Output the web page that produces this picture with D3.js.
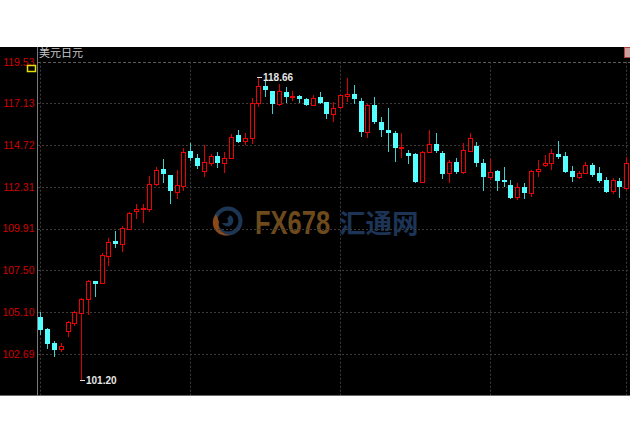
<!DOCTYPE html>
<html><head><meta charset="utf-8">
<script src="https://cdn.jsdelivr.net/npm/d3@7"></script>
<style>html,body{margin:0;padding:0;background:#fff;}svg{display:block;}</style>
</head><body>
<svg id="c" width="630" height="445"></svg>
<script>
const title = "美元日元";
const tickLabels = ["119.53","117.13","114.72","112.31","109.91","107.50","105.10","102.69"];
const openV  = [104.79,104.10,103.29,102.94,104.02,104.44,105.02,105.83,106.88,106.79,108.34,109.19,109.02,109.88,110.92,111.02,111.05,112.46,113.32,113.00,112.03,112.36,114.40,113.99,113.24,113.71,114.09,113.67,113.96,115.30,114.97,115.15,117.15,118.13,117.82,117.07,117.78,117.49,117.57,117.38,117.05,117.48,117.19,116.53,116.92,117.57,117.65,117.28,115.49,117.03,116.07,115.61,115.44,114.54,114.28,114.21,112.59,114.31,114.78,114.25,113.09,113.76,113.19,114.40,114.69,113.71,112.86,113.23,112.71,112.42,111.70,112.32,111.98,113.23,113.57,113.67,114.21,114.09,113.24,112.86,113.09,113.57,113.09,112.71,112.09,112.67,112.23];
const highV  = [105.08,104.16,103.41,103.32,104.59,105.15,105.89,106.94,106.90,108.48,109.35,109.77,110.06,110.88,111.32,111.32,112.94,113.48,113.90,113.02,113.28,114.54,114.82,114.21,114.73,114.21,114.34,114.34,115.36,115.59,115.40,117.42,118.66,118.45,117.84,118.23,118.05,117.84,117.61,117.42,117.61,117.77,117.22,117.19,117.61,118.61,118.19,117.42,117.07,117.51,116.36,116.84,115.55,115.44,114.44,114.28,114.38,115.59,115.40,114.38,113.86,113.96,114.82,115.40,114.92,113.90,113.90,113.28,113.44,112.71,112.52,112.52,113.28,113.86,114.15,114.48,114.96,114.31,113.52,113.24,113.76,113.71,113.48,112.90,112.81,112.81,114.05];
const lowV   = [103.77,102.96,102.52,102.79,103.67,104.29,101.20,104.92,105.98,106.75,107.77,108.77,108.57,109.86,110.44,110.25,110.88,112.36,112.55,111.32,111.61,112.09,113.82,113.32,112.86,113.52,113.42,113.13,113.93,114.86,114.73,114.77,116.93,117.48,116.53,116.99,117.13,117.28,117.17,116.99,117.03,117.09,116.23,116.04,116.79,117.22,117.07,115.20,115.11,115.92,115.20,114.31,113.76,113.96,113.63,112.52,112.52,114.28,114.25,112.78,112.52,113.05,113.05,114.38,113.48,112.09,112.71,112.09,112.32,111.63,111.55,111.63,111.74,112.86,113.44,113.28,113.90,113.09,112.61,112.75,113.05,112.90,112.55,111.94,111.90,111.69,112.13];
const closeV = [104.06,103.25,102.90,103.13,104.50,105.08,105.83,106.88,106.71,108.38,109.12,109.02,109.92,110.82,111.04,111.11,112.48,113.28,113.04,112.07,112.42,114.34,113.99,113.52,113.73,114.11,113.71,113.96,115.20,114.92,115.11,117.13,118.11,117.90,117.11,117.84,117.49,117.55,117.36,117.05,117.42,117.13,116.53,116.88,117.59,117.65,117.36,115.49,117.02,116.04,115.59,115.42,114.57,114.59,114.09,112.59,114.34,114.78,114.40,113.05,113.73,113.15,114.44,115.11,113.67,112.86,113.15,112.65,112.65,111.69,112.32,111.98,113.24,113.34,113.71,114.25,114.05,113.19,112.90,113.13,113.57,113.00,112.67,112.03,112.71,112.29,113.67];
const days = openV.map((d,i)=>i);
const gridEvery = 22;

const svg = d3.select("#c");
const W = 630;
const plotTop = 47, plotBottom = 396;
const x = d3.scaleBand().domain(days).range([36.9, 629.7]);
const cx = i => Math.round(x(i) + x.bandwidth()/2);
const y = d3.scaleLinear().domain([+tickLabels[tickLabels.length-1], +tickLabels[0]]).range([353.7, 61.7]);

svg.append("rect").attr("x",0).attr("y",0).attr("width",W).attr("height",445).attr("fill","#fff");
svg.append("rect").attr("x",0).attr("y",plotTop).attr("width",W).attr("height",plotBottom-plotTop).attr("fill","#000");
svg.append("line").attr("x1",0).attr("x2",W).attr("y1",plotBottom-0.5).attr("y2",plotBottom-0.5).attr("stroke","#6a6a6a");

// watermark
const wm = svg.append("g");
wm.append("circle").attr("cx",228).attr("cy",221).attr("r",12.5).attr("fill","none").attr("stroke","#1d3656").attr("stroke-width",4);
wm.append("path").attr("d","M216,214 A13,13 0 0,0 232,234 A10,10 0 0,1 219,222 Z").attr("fill","#8a4a18");
wm.append("path").attr("d","M222,223 A6,6 0 1,0 230,215 L227,219 A2,2 0 1,1 225,223 Z").attr("fill","#1d3656");
wm.append("text").attr("transform","translate(255,234) scale(1,1.32)").attr("font-family","Liberation Sans, Arial, sans-serif")
  .attr("font-weight","bold").attr("font-size",25.5).attr("fill","#6e4a1c").text("FX678");
wm.append("text").attr("x",339).attr("y",233).attr("font-family","Noto Sans CJK SC, sans-serif").attr("font-weight","bold").attr("font-size",26.5)
  .attr("fill","#1c3456").text("汇通网");

// grid
const g = svg.append("g");
tickLabels.forEach((t,k)=>{
  const yy = Math.round(y(+t))+0.5;
  g.append("line").attr("x1",38).attr("x2",W).attr("y1",yy).attr("y2",yy)
    .attr("stroke", k===0 ? "#5a5a5a" : "#3c3c3c").attr("stroke-dasharray", k===0 ? "3,2" : "2,2");
});
days.filter(i=>i%gridEvery===0).forEach(i=>{
  const xx = cx(i)+0.5;
  g.append("line").attr("x1",xx).attr("x2",xx).attr("y1",y(+tickLabels[0])).attr("y2",plotBottom-1)
    .attr("stroke","#3c3c3c").attr("stroke-dasharray","2,2");
});
g.append("line").attr("x1",626.5).attr("x2",626.5).attr("y1",y(+tickLabels[0])).attr("y2",plotBottom-1)
  .attr("stroke","#3c3c3c").attr("stroke-dasharray","2,2");

// axis
const axis = svg.append("g").attr("transform","translate(37.5,0)")
  .call(d3.axisLeft(y).tickValues(tickLabels.map(Number)).tickFormat((d,i)=>tickLabels[i]).tickSize(0).tickPadding(3));
axis.select(".domain").remove();
axis.append("line").attr("x1",0).attr("x2",0).attr("y1",plotTop).attr("y2",plotBottom-1).attr("stroke","#7a7a7a");
axis.selectAll("text").attr("fill","#d00000").attr("font-size",10.5).attr("font-family","Liberation Sans, Arial, sans-serif");

// title & decorations
svg.append("text").attr("x",39).attr("y",57).attr("font-family","Noto Sans CJK SC, sans-serif").attr("font-size",11)
  .attr("fill","#c8c8c8").text(title);
svg.append("rect").attr("x",27.5).attr("y",65.5).attr("width",8).attr("height",6).attr("fill","#000").attr("stroke","#e8e000").attr("stroke-width",1.5);
svg.append("rect").attr("x",624.5).attr("y",47.5).attr("width",6).attr("height",10).attr("fill","#c8a0a0").attr("stroke","#b04040");

// candles
const cg = svg.append("g");
days.forEach(i=>{
  const up = closeV[i] >= openV[i];
  const c = cx(i);
  cg.append("line").attr("x1",c+0.5).attr("x2",c+0.5)
    .attr("y1",Math.round(y(highV[i]))).attr("y2",Math.round(y(lowV[i])))
    .attr("stroke", up ? "#dd0000" : "#3fcfcf");
  const yt = Math.round(y(Math.max(openV[i],closeV[i])));
  const yb = Math.round(y(Math.min(openV[i],closeV[i])));
  if (up) {
    cg.append("rect").attr("x",c-1.5).attr("y",yt+0.5).attr("width",4).attr("height",Math.max(1,yb-yt))
      .attr("fill","#000").attr("stroke","#f00000");
  } else {
    cg.append("rect").attr("x",c-2).attr("y",yt).attr("width",5).attr("height",Math.max(2,yb-yt))
      .attr("fill","#55ffff");
  }
});

// max / min labels
const iMax = d3.maxIndex(highV), iMin = d3.minIndex(lowV);
[[iMax, highV[iMax]],[iMin, lowV[iMin]]].forEach(([i,v])=>{
  const c = cx(i), yy = Math.round(y(v))+0.5;
  svg.append("line").attr("x1",c-1).attr("x2",c+4).attr("y1",yy).attr("y2",yy).attr("stroke","#e0e0e0");
  svg.append("text").attr("x",c+5).attr("y",yy).attr("dy","0.35em").attr("font-family","Liberation Sans, Arial, sans-serif")
    .attr("font-weight","bold").attr("font-size",10).attr("fill","#e6e6e6").text(v.toFixed(2));
});
</script>
</body></html>
